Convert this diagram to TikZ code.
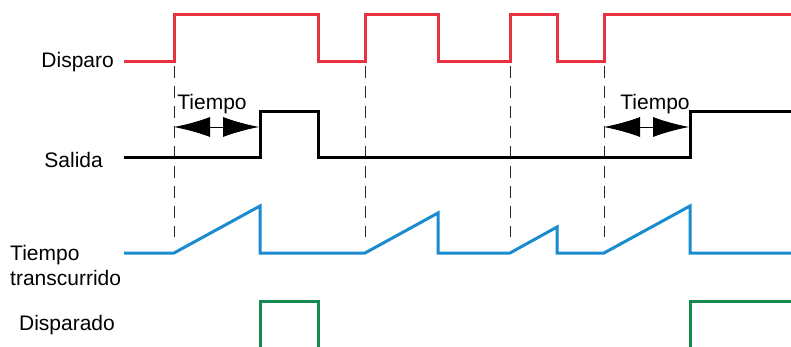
\documentclass[tikz,border=0pt]{standalone}
\usepackage{fontspec}
\setmainfont{Liberation Sans}
\usetikzlibrary{arrows.meta}
\definecolor{SigRed}{HTML}{E8323F}
\definecolor{SigBlue}{HTML}{1A8BCF}
\definecolor{SigGreen}{HTML}{148A50}

\begin{document}
\begin{tikzpicture}[x=1pt, y=-1pt, font=\fontsize{21}{25}\selectfont]
\tikzset{sig/.style={line width=3pt, line join=miter}, guide/.style={draw=black!85, line width=1pt, dash pattern=on 12pt off 8pt}, lbl/.style={inner sep=0pt}, span/.style={line width=0.9pt, {Latex[length=36pt,width=20pt]}-{Latex[length=36pt,width=20pt]}}}
\useasboundingbox (0,0) rectangle (791,347);
% signal names
\node[lbl, anchor=east] (disparo) at (114,62) {Disparo};
\node[lbl, anchor=east] (salida) at (103,160) {Salida};
\node[lbl, anchor=west, align=left, font=\fontsize{21}{25}\selectfont] (transc) at (10,265) {Tiempo\\transcurrido};
\node[lbl] (disparado) at (67,325) {Disparado};
% trigger edges
\foreach \x in {174,365,510,604} \draw[guide] (\x,66) -- (\x,237);
% waveforms
\draw[sig, SigRed] (124,62) -- (174,62) -- (174,15) -- (318,15) -- (318,62) -- (365,62) -- (365,15) -- (438,15) -- (438,62) -- (510,62) -- (510,15) -- (557,15) -- (557,62) -- (604,62) -- (604,15) -- (791,15);
\draw[sig, black] (124,158) -- (260,158) -- (260,112) -- (318,112) -- (318,158) -- (690,158) -- (690,112) -- (791,112);
\draw[sig, SigBlue] (124,253) -- (174,253) -- (260,206) -- (260,253) -- (365,253) -- (438,213) -- (438,253) -- (510,253) -- (557,227) -- (557,253) -- (604,253) -- (690,206) -- (690,253) -- (791,253);
\draw[sig, SigGreen] (260,349) -- (260,301) -- (318,301) -- (318,349);
\draw[sig, SigGreen] (690,349) -- (690,301) -- (791,301);
% delay spans
\coordinate (d1a) at (174,127);
\coordinate (d1b) at (259,127);
\coordinate (d2a) at (604,127);
\coordinate (d2b) at (689,127);
\draw[span] (d1a) -- (d1b);
\draw[span] (d2a) -- (d2b);
\node[lbl] (tiempo1) at (212,104) {Tiempo};
\node[lbl] (tiempo2) at (655,104) {Tiempo};
\end{tikzpicture}
\end{document}
